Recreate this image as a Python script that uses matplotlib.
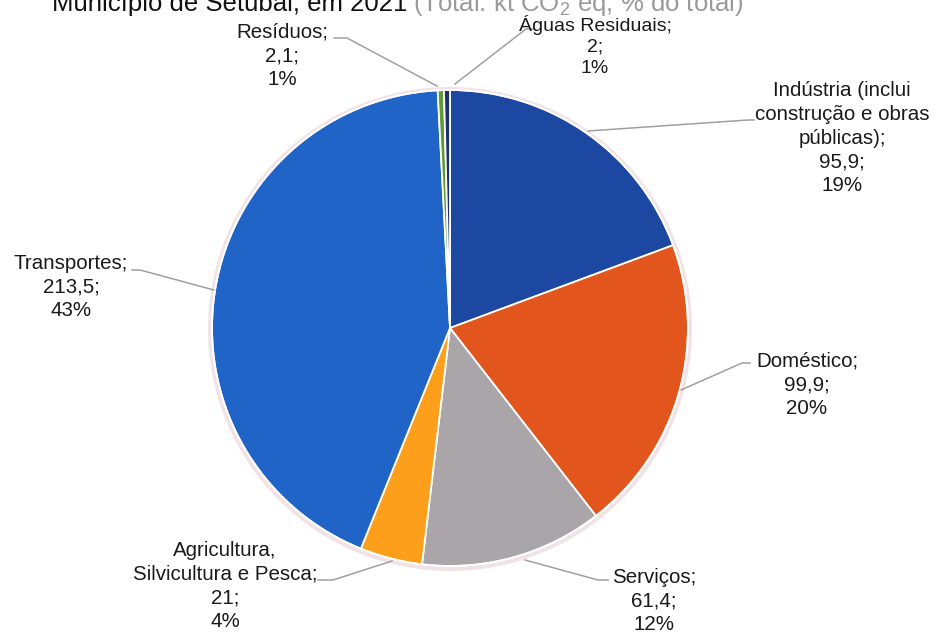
import matplotlib
matplotlib.use("Agg")
import matplotlib.pyplot as plt
from matplotlib.patches import Circle

plt.rcParams['font.family'] = ['Liberation Sans', 'DejaVu Sans']
plt.rcParams['mathtext.fontset'] = 'custom'
plt.rcParams['mathtext.rm'] = 'Liberation Sans'
plt.rcParams['mathtext.it'] = 'Liberation Sans:italic'

# ---- data ----
categories = ['Indústria (inclui\nconstrução e obras\npúblicas)', 'Doméstico', 'Serviços',
              'Agricultura,\nSilvicultura e Pesca', 'Transportes', 'Resíduos', 'Águas Residuais']
values = [95.9, 99.9, 61.4, 21, 213.5, 2.1, 2]
percent_labels = [19, 20, 12, 4, 43, 1, 1]
colors = ['#1c48a2', '#e2561e', '#a9a5a9', '#fd9f1b', '#2064c8', '#5f9a36', '#1b2f6b']
title_main = 'Município de Setúbal, em 2021 '
title_sub = '(Total: kt CO$_2$ eq, % do total)'

W, H = 938, 637
def Y(y):
    return H - y

fig = plt.figure(figsize=(W / 100, H / 100), dpi=100)
ax = fig.add_axes([0, 0, 1, 1])

cx, cy, r = 450, 328, 238
ax.add_patch(Circle((cx, Y(cy) - 1), r + 4, facecolor='#ead6da', edgecolor='none', alpha=0.7, zorder=0))
wedges, _ = ax.pie(values, colors=colors, startangle=90, counterclock=False,
                   center=(cx, Y(cy)), radius=r, frame=True,
                   wedgeprops=dict(edgecolor='white', linewidth=1.3))
for w in wedges:
    w.set_zorder(2)
ax.add_patch(Circle((cx, Y(cy)), r, facecolor='none', edgecolor='white', linewidth=1.3, zorder=3))

ax.set_xlim(0, W)
ax.set_ylim(0, H)
ax.set_aspect('equal')
ax.axis('off')

def fmt(v):
    return str(v).replace('.', ',')

# label layout: (center x, center y) in pixel coords from the top
label_pos = [(842, 138), (807, 385), (654, 601), (225, 586), (71, 287), (282, 56), (595, 46)]
leaders = [
    [(588, 131), (748, 120), (754, 120)],
    [(681, 390), (742, 363), (750, 363)],
    [(525, 560), (598, 580), (608, 580)],
    [(392, 561), (333, 580), (318, 580)],
    [(214, 290), (140, 270), (132, 270)],
    [(437, 86), (347, 38), (334, 38)],
    [(455, 84), (526, 29), (533, 29)],
]

for i, (cat, v, p) in enumerate(zip(categories, values, percent_labels)):
    txt = f"{cat};\n{fmt(v)};\n{p}%"
    x, y = label_pos[i]
    fs = 14.0 if i == 6 else 14.8
    ax.text(x, Y(y), txt, ha='center', va='center', fontsize=fs, color='#1a1a1a',
            linespacing=1.32, zorder=5)
    pts = leaders[i]
    ax.plot([p_[0] for p_ in pts], [Y(p_[1]) for p_ in pts], color='#a0a0a0', lw=1.1, zorder=4)

ax.text(52, Y(11), title_main, ha='left', va='baseline', fontsize=18.5, color='#111111')
ax.text(413, Y(11), title_sub, ha='left', va='baseline', fontsize=18.5, color='#9a9a9a')

fig.savefig('out.png', dpi=100)
